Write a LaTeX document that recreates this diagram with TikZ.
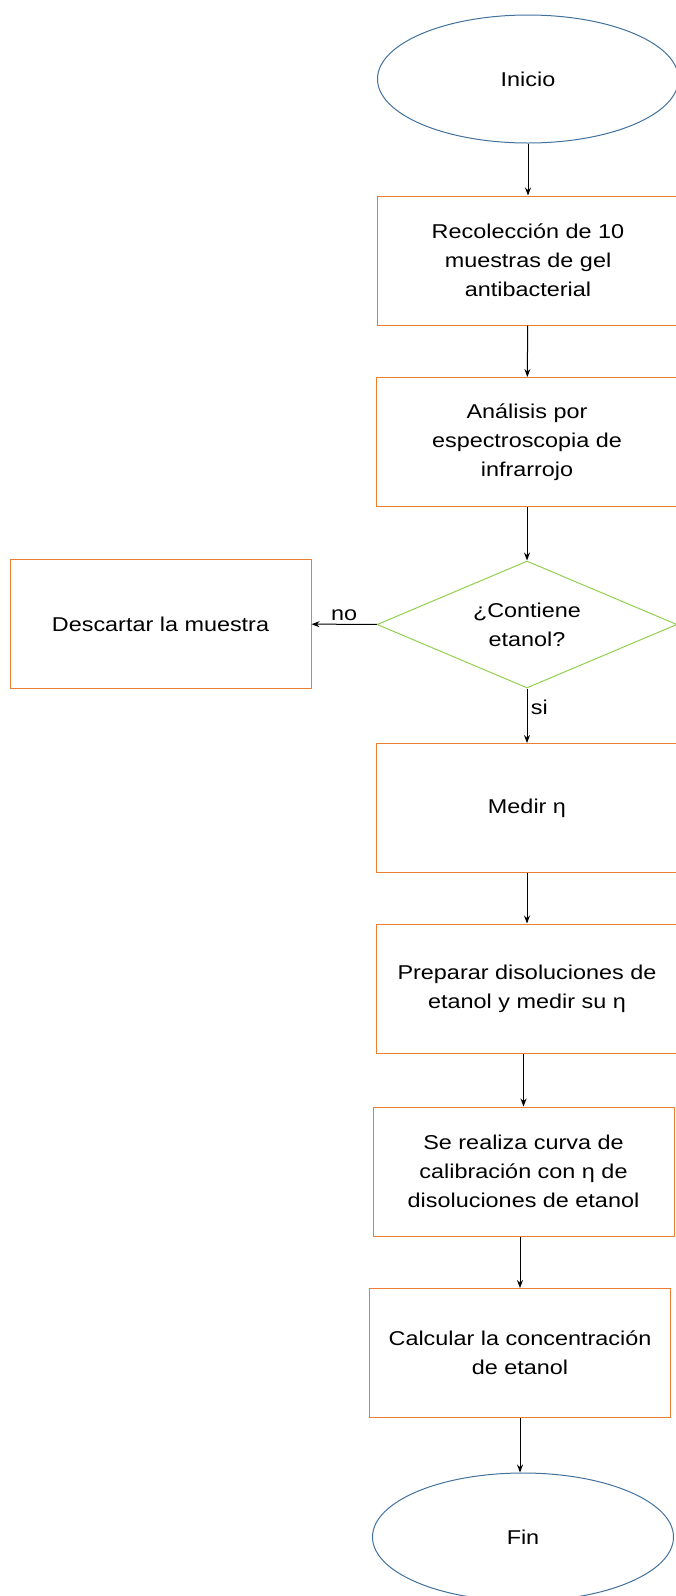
\documentclass[tikz,border=0pt]{standalone}
\usepackage{fontspec}
\setmainfont{Liberation Sans}[FakeStretch=1.17]
\usetikzlibrary{shapes.geometric, arrows.meta}
\definecolor{bordeazul}{RGB}{65,113,156}
\definecolor{bordenaranja}{RGB}{237,125,49}
\definecolor{bordeverde}{RGB}{146,208,80}
\tikzset{
    terminal/.style={ellipse, draw=bordeazul, line width=1pt, inner sep=0pt, minimum width=301pt, minimum height=128pt, align=center},
    proceso/.style={rectangle, draw=bordenaranja, line width=1pt, inner sep=0pt, minimum width=301pt, minimum height=129pt, align=center},
    decision/.style={diamond, aspect=2.36, draw=bordeverde, line width=1pt, inner sep=0pt, minimum width=300pt, minimum height=127pt, align=center},
}

\begin{document}
\begin{tikzpicture}[x=1pt, y=-1pt, >={Stealth[length=8pt,width=6pt]}, line width=1pt,
    font=\fontsize{20}{29}\selectfont]

            % Margins of the page
            \useasboundingbox (0,0) rectangle (675,1596);

            % Start and end
            \node[terminal] (inicio) at (528,79) {Inicio};
            \node[terminal] (fin) at (523,1537) {Fin};

            % Steps
            \node[proceso] (recoleccion) at (528,260.5) {Recolección de 10\\muestras de gel\\antibacterial};
            \node[proceso] (analisis) at (527,442) {Análisis por\\espectroscopia de\\infrarrojo};
            \node[decision] (contiene) at (527,624.5) {¿Contiene\\etanol?};
            \node[proceso] (descartar) at (160.5,624) {Descartar la muestra};
            \node[proceso] (medir) at (527,808) {Medir η};
            \node[proceso] (preparar) at (527,988.5) {Preparar disoluciones de\\etanol y medir su η};
            \node[proceso] (curva) at (523.5,1171.5) {Se realiza curva de\\calibración con η de\\disoluciones de etanol};
            \node[proceso] (calcular) at (520,1353) {Calcular la concentración\\de etanol};

            % Relationships
            \draw[->] (inicio) -- (recoleccion);
            \draw[->] (recoleccion) -- (analisis);
            \draw[->] (analisis) -- (contiene);
            \draw[->] (contiene) -- node[above] {no} (descartar);
            \draw[->] (contiene) -- node[right, pos=0.35] {si} (medir);
            \draw[->] (medir) -- (preparar);
            \draw[->] (preparar.south -| curva.north) -- (curva.north);
            \draw[->] (curva.south -| calcular.north) -- (calcular.north);
            \draw[->] (calcular.south) -- (calcular.south |- fin.north);

        \end{tikzpicture}
\end{document}
